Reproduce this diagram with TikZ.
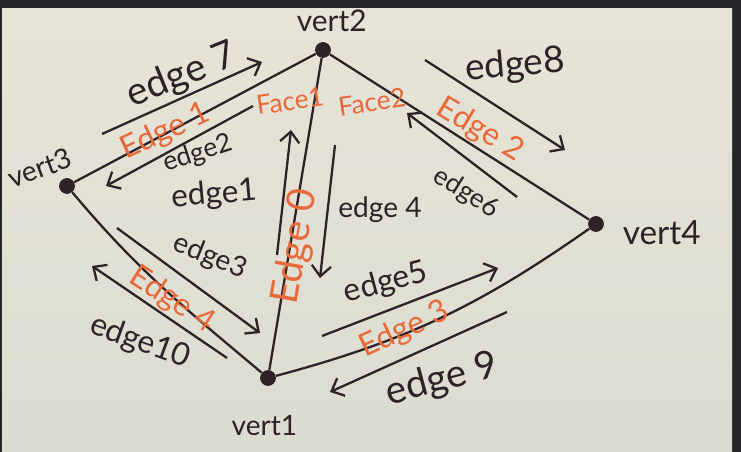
\documentclass[tikz,border=0pt]{standalone}
\usepackage{xcolor}
\usepackage{fontspec}
\setmainfont{Lato}
\usetikzlibrary{positioning,arrows.meta}

\definecolor{ink}{HTML}{2E2228}
\definecolor{marker}{HTML}{E8693A}
\definecolor{paper}{HTML}{E7E4D7}
\definecolor{paperlow}{HTML}{DBDCD0}
\definecolor{frame}{HTML}{25262A}

\tikzset{
  vert/.style={circle, fill=ink, inner sep=0pt, minimum size=9pt},
  mesh/.style={draw=ink, line width=1.3pt},
  half/.style={draw=ink, line width=1.3pt, -{Straight Barb[length=6pt,width=11pt]}},
  lbl/.style={text=ink, inner sep=1pt, font=\fontsize{18}{20}\selectfont},
  vlbl/.style={text=ink, font=\fontsize{16}{18}\selectfont},
  olbl/.style={text=marker, inner sep=1pt, font=\fontsize{18}{20}\selectfont},
}

\begin{document}
\begin{tikzpicture}[x=0.02cm, y=-0.02cm]
  \fill[frame] (0,0) rectangle (741,452);
  \shade[top color=paper, bottom color=paperlow] (2,9) rectangle (732,452);
  \useasboundingbox (0,0) rectangle (741,452);

  % vertices
  \node (v1) [vert] at (268,378) {};
  \node (v2) [vert] at (323,50) {};
  \node (v3) [vert] at (67,186) {};
  \node (v4) [vert] at (596,224) {};

  \node (n1) [vlbl, below=13pt of v1, xshift=-2pt] {vert1};
  \node (n2) [vlbl, above=2pt of v2, xshift=5pt, font=\fontsize{17}{19}\selectfont] {vert2};
  \node (n3) [vlbl, rotate=20] at (40,168) {vert3};
  \node (n4) [vlbl, right=7pt of v4, yshift=-5pt, font=\fontsize{19}{21}\selectfont] {vert4};

  % mesh edges
  \draw[mesh] (v3) -- (v2);
  \draw[mesh] (v2) -- (v1);
  \draw[mesh] (v3) to[out=-50, in=140] (v1);
  \draw[mesh] (v2) -- (v4);
  \draw[mesh] (v1) to[out=15, in=-145] (v4);

  % half edges
  \coordinate (e7a) at (102,134);  \coordinate (e7b) at (262,62);
  \coordinate (e2a) at (253,106);  \coordinate (e2b) at (106,186);
  \coordinate (e1a) at (277,255);  \coordinate (e1b) at (291,130);
  \coordinate (e4a) at (335,145);  \coordinate (e4b) at (320,278);
  \coordinate (e3a) at (117,228);  \coordinate (e3b) at (260,333);
  \coordinate (e10a) at (227,358); \coordinate (e10b) at (92,266);
  \coordinate (e5a) at (322,336);  \coordinate (e5b) at (498,268);
  \coordinate (e9a) at (507,312);  \coordinate (e9b) at (330,392);
  \coordinate (e8a) at (425,60);   \coordinate (e8b) at (565,150);
  \coordinate (e6a) at (517,197);  \coordinate (e6b) at (407,113);

  \draw[half] (e7a) -- (e7b);
  \draw[half] (e2a) -- (e2b);
  \draw[half] (e1a) -- (e1b);
  \draw[half] (e4a) -- (e4b);
  \draw[half] (e3a) -- (e3b);
  \draw[half] (e10a) -- (e10b);
  \draw[half] (e5a) -- (e5b);
  \draw[half] (e9a) -- (e9b);
  \draw[half] (e8a) -- (e8b);
  \draw[half] (e6a) -- (e6b);

  % half edge names
  \node (l7) [lbl, rotate=22, font=\fontsize{22}{24}\selectfont] at (182,76) {edge 7};
  \node (l2) [lbl, rotate=18, font=\fontsize{15}{17}\selectfont] at (198,154) {edge2};
  \node (l1) [lbl, rotate=5] at (214,195) {edge1};
  \node (l4) [lbl, font=\fontsize{16}{18}\selectfont] at (380,210) {edge 4};
  \node (l3) [lbl, rotate=-22, font=\fontsize{16}{18}\selectfont] at (210,257) {edge3};
  \node (l10) [lbl, rotate=-20] at (140,342) {edge10};
  \node (l5) [lbl, rotate=15] at (386,283) {edge5};
  \node (l9) [lbl, rotate=15, font=\fontsize{22}{24}\selectfont] at (442,380) {edge 9};
  \node (l8) [lbl, rotate=5, font=\fontsize{21}{23}\selectfont] at (515,66) {edge8};
  \node (l6) [lbl, rotate=-32, font=\fontsize{15}{17}\selectfont] at (466,193) {edge6};

  % edge and face names
  \node (o1) [olbl, rotate=25] at (166,132) {Edge 1};
  \node (f1) [olbl, rotate=8, font=\fontsize{15}{17}\selectfont] at (290,101) {Face1};
  \node (f2) [olbl, rotate=8, font=\fontsize{15}{17}\selectfont] at (372,102) {Face2};
  \node (o2) [olbl, rotate=-31] at (480,130) {Edge 2};
  \node (o0) [olbl, rotate=80, font=\fontsize{22}{24}\selectfont] at (296,247) {Edge 0};
  \node (o4) [olbl, rotate=-33] at (172,300) {Edge 4};
  \node (o3) [olbl, rotate=25] at (405,330) {Edge 3};
\end{tikzpicture}
\end{document}
